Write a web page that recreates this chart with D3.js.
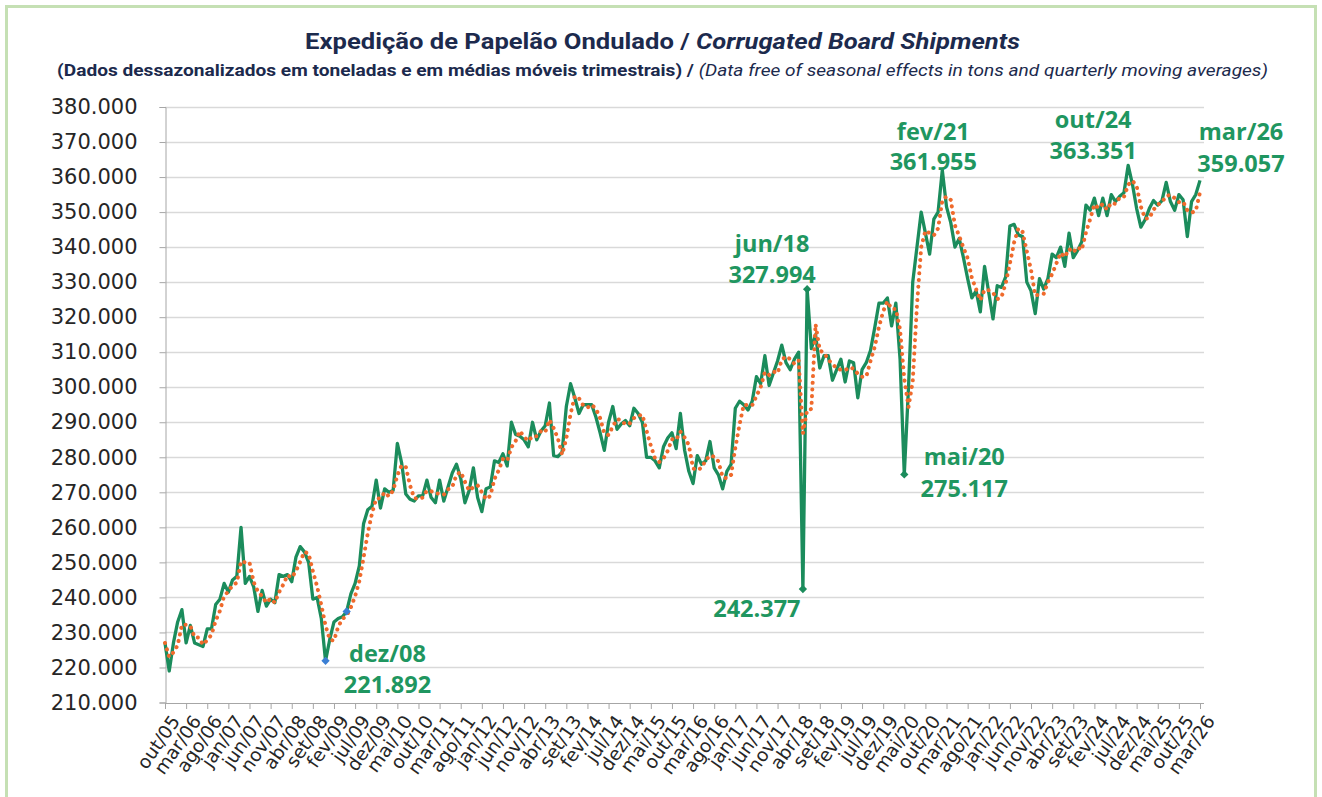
<!DOCTYPE html>
<html>
<head>
<meta charset="utf-8">
<script src="https://cdn.jsdelivr.net/npm/d3@7/dist/d3.min.js"></script>
<style>
  body { margin: 0; background: #fff; }
  svg { display: block; }
</style>
</head>
<body>
<svg id="chart" width="1322" height="797"></svg>
<script>
// meses em português, série começa em out/2005
const monthNames = ["jan", "fev", "mar", "abr", "mai", "jun", "jul", "ago", "set", "out", "nov", "dez"];
const firstMonth = 9;
const firstYear = 2005;

// expedição dessazonalizada (mil toneladas), out/05 .. mar/26
const shipments = [
  227, 219, 227, 233, 236.5, 227, 232, 227, 226.5, 226,
  231, 231, 238, 239.5, 244, 241.5, 245, 246, 260, 244,
  246, 243, 236, 242, 237.5, 239.5, 238.5, 246.5, 246, 246.5,
  244.5, 251.5, 254.5, 253, 250, 239.5, 240, 234, 221.892, 228,
  233, 234, 234.5, 236, 241, 244, 249, 261, 265, 266,
  273.5, 265.5, 271, 270, 270.5, 284, 278.5, 269.5, 268, 267.5,
  269, 269, 273.5, 268.5, 267, 273.5, 267.5, 271.5, 275.5, 278,
  274, 267, 270.5, 277, 268.5, 264.5, 271, 271.5, 279, 278.5,
  281, 277.5, 290, 286.5, 286, 285, 283, 290, 285, 287.5,
  289, 295.5, 280.5, 280.2, 281.5, 294.5, 301, 297, 292.5, 295,
  295, 295, 291.5, 287, 282, 290, 294.5, 288, 289.5, 290.5,
  289, 294, 292.5, 290, 280, 280, 279, 277, 283, 285.5,
  287, 282.5, 292.5, 282, 276, 272.5, 280.5, 278, 279, 284.5,
  277, 275, 271, 276, 278, 294, 296, 295, 293.5, 296,
  303, 301, 309, 300.5, 304, 307.5, 312, 307, 305, 308,
  310, 242.377, 327.994, 311, 315, 305.5, 309, 309, 302, 305,
  308, 301.5, 307.5, 307, 297, 305, 307, 310.5, 317, 324,
  324, 325.5, 317.5, 324, 308, 275.117, 300, 330, 340, 350,
  344, 338, 348, 350, 361.955, 351.5, 347, 340, 342.5, 337,
  331, 325.5, 327.5, 321.5, 334.5, 327, 319.5, 329, 328.5, 331.5,
  346, 346.5, 343.5, 343, 330, 327.5, 321, 331, 328, 331,
  338, 337, 340, 334.5, 344, 337, 339, 341.5, 352, 350.5,
  354, 349, 354, 349, 355, 353, 354.5, 355.5, 363.351, 358,
  351, 345.7, 347.8, 351, 353.3, 352, 353.3, 358.5, 353, 350.5,
  355, 353.5, 343, 353, 355, 359.057
];

const tickLabels = [
  "out/05", "mar/06", "ago/06", "jan/07", "jun/07", "nov/07", "abr/08", "set/08", "fev/09", "jul/09",
  "dez/09", "mai/10", "out/10", "mar/11", "ago/11", "jan/12", "jun/12", "nov/12", "abr/13", "set/13",
  "fev/14", "jul/14", "dez/14", "mai/15", "out/15", "mar/16", "ago/16", "jan/17", "jun/17", "nov/17",
  "abr/18", "set/18", "fev/19", "jul/19", "dez/19", "mai/20", "out/20", "mar/21", "ago/21", "jan/22",
  "jun/22", "nov/22", "abr/23", "set/23", "fev/24", "jul/24", "dez/24", "mai/25", "out/25", "mar/26"
];

const yTicks = [210, 220, 230, 240, 250, 260, 270, 280, 290, 300, 310, 320, 330, 340, 350, 360, 370, 380];

// pontos destacados no gráfico
const callouts = [
  { month: "dez/08", label: ["dez/08", "221.892"], dx: 62, dy: [-7, 24], marker: "#3b7fd4" },
  { month: "mai/09", label: [], marker: "#3b7fd4" },
  { month: "mai/18", label: ["242.377"], dx: -46, dy: [20], marker: "#1b8c5c" },
  { month: "jun/18", label: ["jun/18", "327.994"], dx: -35, dy: [-45, -14], marker: "#1b8c5c" },
  { month: "mai/20", label: ["mai/20", "275.117"], dx: 60, dy: [-18, 14], marker: "#1b8c5c" },
  { month: "fev/21", label: ["fev/21", "361.955"], dx: -9, dy: [-38, -8] },
  { month: "out/24", label: ["out/24", "363.351"], dx: -35, dy: [-46, -15] },
  { month: "mar/26", label: ["mar/26", "359.057"], dx: 41, dy: [-49, -17] }
];

const months = shipments.map((_, i) => {
  const m = firstMonth + i;
  return monthNames[m % 12] + "/" + String((firstYear + Math.floor(m / 12)) % 100).padStart(2, "0");
});

const lineColor = "#1b8c5c";
const textGreen = "#1f9660";
const dotColor = "#ef6a2c";
const navy = "#1c2a4d";

const ptBR = d3.formatLocale({ decimal: ",", thousands: ".", grouping: [3], currency: ["R$", ""] });
const fmt = ptBR.format(",.0f");

const svg = d3.select("#chart");

svg.append("rect")
  .attr("x", 6.5).attr("y", 6.5)
  .attr("width", 1309).attr("height", 820)
  .attr("fill", "#fff")
  .attr("stroke", "#c5e0b4")
  .attr("stroke-width", 3);

const x = d3.scalePoint().domain(months).range([165, 1200]);
const y = d3.scaleLinear().domain([210, 380]).range([702.5, 107]);

// títulos
const title = svg.append("text")
  .attr("font-family", "Roboto")
  .attr("font-weight", 700)
  .attr("font-size", 22)
  .attr("fill", navy)
  .attr("text-anchor", "middle");
title.append("tspan").text("Expedição de Papelão Ondulado / ");
title.append("tspan").attr("font-style", "italic").text("Corrugated Board Shipments");

const subtitle = svg.append("text")
  .attr("font-family", "Roboto")
  .attr("font-size", 17)
  .attr("fill", navy)
  .attr("text-anchor", "middle");
subtitle.append("tspan").attr("font-weight", 700).text("(Dados dessazonalizados em toneladas e em médias móveis trimestrais) / ");
subtitle.append("tspan").attr("font-style", "italic").text("(Data free of seasonal effects in tons and quarterly moving averages)");

// fonte condensada no original: ajusta a largura
function squeeze(sel, cx, cy, width) {
  const w = sel.node().getComputedTextLength();
  sel.attr("transform", `translate(${cx},${cy}) scale(${width / w},1)`);
}
squeeze(title, 662.5, 49, 715);
squeeze(subtitle, 662.5, 76, 1211);

// grade
svg.append("g")
  .selectAll("line")
  .data(yTicks.filter((d) => d > 210))
  .join("line")
  .attr("x1", 165).attr("x2", 1204)
  .attr("y1", (d) => Math.round(y(d)) + 0.5)
  .attr("y2", (d) => Math.round(y(d)) + 0.5)
  .attr("stroke", "#d9d9d9")
  .attr("stroke-width", 1.3);

// eixo y
const yAxis = svg.append("g")
  .attr("transform", "translate(165.5,0)")
  .call(d3.axisLeft(y).tickValues(yTicks).tickSize(6).tickPadding(22).tickFormat((d) => fmt(d * 1000)));
yAxis.select(".domain").attr("stroke", "#a6a6a6");
yAxis.selectAll(".tick line").attr("stroke", "#a6a6a6");
yAxis.selectAll(".tick text")
  .attr("font-family", "DejaVu Sans")
  .attr("font-size", 21)
  .attr("fill", "#262626");

// eixo x
const xAxis = svg.append("g")
  .attr("transform", "translate(0,703)")
  .call(d3.axisBottom(x).tickValues(tickLabels).tickSize(6).tickSizeOuter(0));
xAxis.select(".domain").attr("stroke", "#a6a6a6").attr("d", "M165,0.5H1204");
xAxis.selectAll(".tick line").attr("stroke", "#a6a6a6");
xAxis.selectAll(".tick text")
  .attr("font-family", "DejaVu Sans")
  .attr("font-size", 18.5)
  .attr("fill", "#262626")
  .attr("text-anchor", "end")
  .attr("dy", 0)
  .attr("transform", "translate(8,13) rotate(-55)");

// média móvel de 3 meses (linha de tendência)
const movingAvg = shipments.map((v, i) => d3.mean(shipments.slice(Math.max(0, i - 2), i + 1)));

const line = d3.line()
  .x((d, i) => x(months[i]))
  .y((d) => y(d));

svg.append("path")
  .datum(shipments)
  .attr("d", line)
  .attr("fill", "none")
  .attr("stroke", lineColor)
  .attr("stroke-width", 3.3)
  .attr("stroke-linejoin", "round");

svg.append("path")
  .datum(movingAvg)
  .attr("d", line)
  .attr("fill", "none")
  .attr("stroke", dotColor)
  .attr("stroke-width", 4)
  .attr("stroke-linecap", "round")
  .attr("stroke-dasharray", "0.1 6.6");

// marcadores em losango
const diamond = d3.symbol().type(d3.symbolDiamond2).size(44);
svg.append("g")
  .selectAll("path")
  .data(callouts.filter((d) => d.marker))
  .join("path")
  .attr("d", diamond)
  .attr("transform", (d) => `translate(${x(d.month)},${y(shipments[months.indexOf(d.month)])})`)
  .attr("fill", (d) => d.marker);

// rótulos
const labels = svg.append("g")
  .attr("font-family", "Open Sans")
  .attr("font-weight", 700)
  .attr("font-size", 23.5)
  .attr("fill", textGreen)
  .attr("text-anchor", "middle");

callouts.forEach((c) => {
  const px = x(c.month);
  const py = y(shipments[months.indexOf(c.month)]);
  c.label.forEach((t, k) => {
    labels.append("text")
      .attr("x", px + c.dx)
      .attr("y", py + c.dy[k])
      .attr("dy", "0.35em")
      .text(t);
  });
});
</script>
</body>
</html>
